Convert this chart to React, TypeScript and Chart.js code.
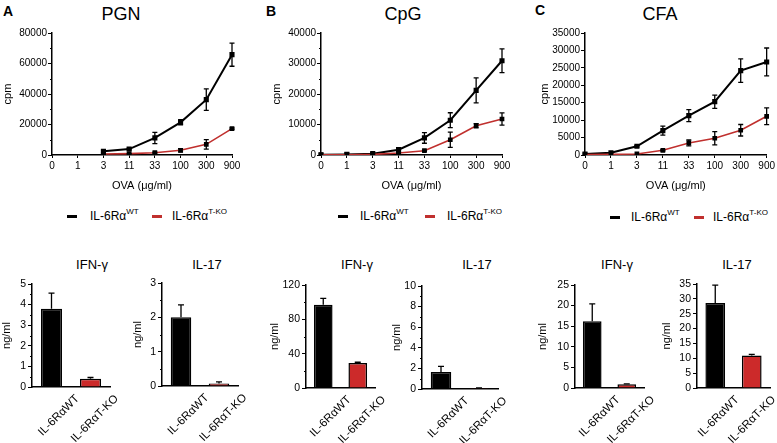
import React, { useEffect, useRef } from 'react';
import { Chart, registerables } from 'chart.js';

Chart.register(...registerables);

const FONT = '"Liberation Sans", Arial, Helvetica, sans-serif';
Chart.defaults.font.family = FONT;
Chart.defaults.color = '#000';

const RED_LINE = '#c0302e';
const RED_BAR = '#cc2a2a';

// ---------- data ----------
const doseLabels = ['0', '1', '3', '11', '33', '100', '300', '900'];

const pgnWT = [null, null, 2400, 3900, 11200, 21400, 36300, 65800];
const pgnWTErr = [0, 0, 600, 500, 3700, 1700, 7000, 7600];
const pgnKO = [null, null, 650, 900, 1500, 3100, 7000, 17300];
const pgnKOErr = [0, 0, 200, 200, 300, 1000, 3100, 500];

const cpgWT = [100, 200, 450, 1750, 5600, 11400, 21200, 30900];
const cpgWTErr = [0, 0, 200, 500, 1750, 2450, 4100, 3900];
const cpgKO = [50, 100, 200, 650, 1400, 5000, 9600, 11800];
const cpgKOErr = [0, 0, 0, 200, 200, 2500, 700, 2000];

const cfaWT = [300, 650, 2500, 7000, 11300, 15300, 24200, 26700];
const cfaWTErr = [0, 0, 200, 1300, 1700, 1900, 3350, 4000];
const cfaKO = [100, 200, 300, 1350, 3450, 4800, 7100, 11100];
const cfaKOErr = [0, 0, 0, 200, 850, 1900, 1650, 2400];

const groupLabels = ['IL-6RαWT', 'IL-6RαT-KO'];
const pgnIFN = [3.8, 0.4];
const pgnIFNErr = [0.76, 0.06];
const pgnIL17 = [2.0, 0.07];
const pgnIL17Err = [0.36, 0.05];
const cpgIFN = [97, 29];
const cpgIFNErr = [7.5, 1];
const cpgIL17 = [1.65, 0.08];
const cpgIL17Err = [0.55, 0.02];
const cfaIFN = [16.2, 0.9];
const cfaIFNErr = [4.2, 0.1];
const cfaIL17 = [28.6, 10.9];
const cfaIL17Err = [6.0, 0.4];

// ---------- plugins ----------
const errorBars = {
  id: 'errorBars',
  afterDatasetsDraw(chart: any, _args: any, opts: any) {
    const ctx = chart.ctx;
    const ys = chart.scales.y;
    const cap = opts.cap ?? 2.5;
    chart.data.datasets.forEach((ds: any, di: number) => {
      const errs = ds.errors;
      if (!errs) return;
      const meta = chart.getDatasetMeta(di);
      meta.data.forEach((el: any, i: number) => {
        const v = ds.data[i];
        const e = errs[i];
        if (v == null || !e) return;
        const x = el.x;
        const top = ys.getPixelForValue(v + e);
        const bot = opts.upOnly ? ys.getPixelForValue(v) : ys.getPixelForValue(Math.max(v - e, 0));
        ctx.save();
        ctx.strokeStyle = '#000';
        ctx.lineWidth = opts.width ?? 1.5;
        ctx.beginPath();
        ctx.moveTo(x, top);
        ctx.lineTo(x, bot);
        ctx.moveTo(x - cap, top);
        ctx.lineTo(x + cap, top);
        if (!opts.upOnly) {
          ctx.moveTo(x - cap, bot);
          ctx.lineTo(x + cap, bot);
        }
        ctx.stroke();
        ctx.restore();
      });
    });
  },
};

const minorTicks = {
  id: 'minorTicks',
  afterDraw(chart: any, _args: any, opts: any) {
    if (!opts || !opts.step) return;
    const y = chart.scales.y;
    const ctx = chart.ctx;
    ctx.save();
    ctx.strokeStyle = '#000';
    ctx.lineWidth = 1;
    for (let v = opts.step; v < y.max; v += opts.step) {
      const r = v / opts.major;
      if (Math.abs(r - Math.round(r)) < 1e-6) continue;
      const py = Math.round(y.getPixelForValue(v)) + 0.5;
      ctx.beginPath();
      ctx.moveTo(y.right - (opts.len ?? 2), py);
      ctx.lineTo(y.right, py);
      ctx.stroke();
    }
    ctx.restore();
  },
};

Chart.register(errorBars as any, minorTicks as any);

// ---------- config builders ----------
function lineConfig(p: any) {
  return {
    type: 'line',
    data: {
      labels: doseLabels,
      datasets: [
        {
          data: p.wt,
          errors: p.wtErr,
          borderColor: '#000',
          borderWidth: 2,
          pointStyle: 'rect',
          pointRadius: 2.2,
          pointBackgroundColor: '#000',
          pointBorderColor: '#000',
          order: 2,
        },
        {
          data: p.ko,
          errors: p.koErr,
          borderColor: RED_LINE,
          borderWidth: 1.6,
          pointStyle: 'rect',
          pointRadius: 2.2,
          pointBackgroundColor: '#000',
          pointBorderColor: '#000',
          order: 1,
        },
      ],
    },
    options: {
      responsive: false,
      animation: false,
      layout: { padding: { top: p.padTop, right: p.padRight, left: 0, bottom: 0 } },
      plugins: {
        legend: { display: false },
        tooltip: { enabled: false },
        title: { display: false },
        errorBars: { cap: 2.5, width: 1.3 },
        minorTicks: p.minor ? { step: p.minor, major: p.step, len: 2 } : {},
      },
      scales: {
        x: {
          offset: false,
          grid: { drawOnChartArea: false, drawTicks: true, tickLength: 3, tickColor: '#000' },
          border: { display: true, color: '#000', width: 1.5 },
          ticks: { color: '#000', font: { size: 10 }, padding: 2, maxRotation: 0, autoSkip: false },
          title: {
            display: true,
            text: 'OVA (μg/ml)',
            color: '#000',
            font: { size: 11 },
            padding: { top: 0, bottom: 2 },
          },
          afterFit: (s: any) => {
            s.height = p.xHeight;
          },
        },
        y: {
          min: 0,
          max: p.max,
          grid: { drawOnChartArea: false, drawTicks: true, tickLength: 4, tickColor: '#000' },
          border: { display: true, color: '#000', width: 1.5 },
          ticks: {
            stepSize: p.step,
            autoSkip: false,
            color: '#000',
            font: { size: 10 },
            padding: 1,
            callback: (v: any) => String(v),
          },
          title: {
            display: true,
            text: 'cpm',
            color: '#000',
            font: { size: 11 },
            padding: { top: 1, bottom: 0 },
          },
          afterFit: (s: any) => {
            s.width = p.yWidth;
          },
        },
      },
    },
  };
}

const BAR_PAD_RIGHT = 30;

function barConfig(p: any) {
  return {
    type: 'bar',
    data: {
      labels: groupLabels,
      datasets: [
        {
          data: p.vals,
          errors: p.errs,
          backgroundColor: ['#000', RED_BAR],
          borderColor: '#000',
          borderWidth: 1.5,
          borderSkipped: 'bottom',
          barPercentage: 0.54,
          categoryPercentage: 1,
        },
      ],
    },
    options: {
      responsive: false,
      animation: false,
      layout: { padding: { top: p.padTop, right: BAR_PAD_RIGHT, left: 0, bottom: 0 } },
      plugins: {
        legend: { display: false },
        tooltip: { enabled: false },
        title: { display: false },
        errorBars: { upOnly: true, cap: 3, width: 1.3 },
        minorTicks: p.minor ? { step: p.minor, major: p.step, len: 2 } : {},
      },
      scales: {
        x: {
          grid: { drawOnChartArea: false, drawTicks: false },
          border: { display: true, color: '#000', width: 1.5 },
          ticks: {
            color: '#000',
            font: { size: 11.5 },
            padding: 5,
            labelOffset: p.labelOffset ?? 26,
            minRotation: 45,
            maxRotation: 45,
            autoSkip: false,
          },
          afterFit: (s: any) => {
            s.height = p.xHeight;
          },
        },
        y: {
          min: 0,
          max: p.max,
          grid: { drawOnChartArea: false, drawTicks: true, tickLength: 4, tickColor: '#000' },
          border: { display: true, color: '#000', width: 1.5 },
          ticks: {
            stepSize: p.step,
            autoSkip: false,
            color: '#000',
            font: { size: 10.5 },
            padding: 2,
            callback: (v: any) => String(v),
          },
          title: {
            display: true,
            text: 'ng/ml',
            color: '#000',
            font: { size: 11 },
            padding: { top: 0, bottom: 0 },
          },
          afterFit: (s: any) => {
            s.width = p.yWidth;
          },
        },
      },
    },
  };
}

// ---------- components ----------
function ChartBox(props: { left: number; top: number; width: number; height: number; config: any }) {
  const ref = useRef<HTMLCanvasElement>(null);
  useEffect(() => {
    const c = new Chart(ref.current as HTMLCanvasElement, props.config);
    return () => c.destroy();
  }, []);
  return (
    <canvas
      ref={ref}
      width={props.width}
      height={props.height}
      style={{ position: 'absolute', left: props.left, top: props.top, width: props.width, height: props.height }}
    />
  );
}

function Txt(props: { x: number; y: number; size: number; bold?: boolean; center?: boolean; children: any }) {
  return (
    <div
      style={{
        position: 'absolute',
        left: props.x,
        top: props.y,
        transform: props.center ? 'translate(-50%, -50%)' : 'translate(0, -50%)',
        fontFamily: FONT,
        fontSize: props.size,
        fontWeight: props.bold ? 'bold' : 'normal',
        lineHeight: 1,
        whiteSpace: 'nowrap',
        color: '#000',
      }}
    >
      {props.children}
    </div>
  );
}

function LegendItem(props: { lineX: number; textX: number; y: number; color: string; sup: string }) {
  return (
    <>
      <div
        style={{
          position: 'absolute',
          left: props.lineX,
          top: props.y - 1,
          width: 10,
          height: 2.6,
          background: props.color,
        }}
      />
      <Txt x={props.textX} y={props.y} size={12}>
        IL-6Rα<sup style={{ fontSize: 8, verticalAlign: 'top', position: 'relative', top: -2 }}>{props.sup}</sup>
      </Txt>
    </>
  );
}

export default function App() {
  const lineA = lineConfig({ wt: pgnWT, wtErr: pgnWTErr, ko: pgnKO, koErr: pgnKOErr, max: 80000, step: 20000, minor: 10000, yWidth: 52, padTop: 13, padRight: 12, xHeight: 40 });
  const lineB = lineConfig({ wt: cpgWT, wtErr: cpgWTErr, ko: cpgKO, koErr: cpgKOErr, max: 40000, step: 10000, minor: 5000, yWidth: 52, padTop: 13, padRight: 12, xHeight: 40 });
  const lineC = lineConfig({ wt: cfaWT, wtErr: cfaWTErr, ko: cfaKO, koErr: cfaKOErr, max: 35000, step: 5000, minor: 0, yWidth: 48, padTop: 13, padRight: 8, xHeight: 40 });

  const barA1 = barConfig({ vals: pgnIFN, errs: pgnIFNErr, max: 5, step: 1, minor: 0.5, yWidth: 32, padTop: 14, xHeight: 56 });
  const barA2 = barConfig({ vals: pgnIL17, errs: pgnIL17Err, max: 3, step: 1, minor: 0.5, yWidth: 31, padTop: 14, xHeight: 57 });
  const barB1 = barConfig({ vals: cpgIFN, errs: cpgIFNErr, max: 120, step: 40, minor: 20, yWidth: 38, padTop: 14, xHeight: 55 });
  const barB2 = barConfig({ vals: cpgIL17, errs: cpgIL17Err, max: 10, step: 2, minor: 1, yWidth: 32, padTop: 14, xHeight: 54 });
  const barC1 = barConfig({ vals: cfaIFN, errs: cfaIFNErr, max: 25, step: 5, minor: 0, yWidth: 39, padTop: 14, xHeight: 55 });
  const barC2 = barConfig({ vals: cfaIL17, errs: cfaIL17Err, max: 35, step: 5, minor: 0, yWidth: 37, padTop: 14, xHeight: 55, labelOffset: 22 });

  const P = BAR_PAD_RIGHT;

  return (
    <div style={{ position: 'absolute', left: 0, top: 0, width: 777, height: 443, overflow: 'hidden', background: '#fff' }}>
      {/* panel letters */}
      <Txt x={3} y={11} size={14} bold>A</Txt>
      <Txt x={266} y={11} size={14} bold>B</Txt>
      <Txt x={535} y={10} size={14} bold>C</Txt>

      {/* line chart titles */}
      <Txt x={121} y={14} size={18} center>PGN</Txt>
      <Txt x={403} y={14} size={18} center>CpG</Txt>
      <Txt x={660} y={14} size={18} center>CFA</Txt>

      <ChartBox left={0} top={20} width={244} height={175} config={lineA} />
      <ChartBox left={269} top={20} width={245} height={175} config={lineB} />
      <ChartBox left={537} top={20} width={240} height={175} config={lineC} />

      {/* legends */}
      <LegendItem lineX={67} textX={90} y={216} color="#000" sup="WT" />
      <LegendItem lineX={152} textX={172} y={216} color={RED_LINE} sup="T-KO" />
      <LegendItem lineX={338} textX={360} y={216} color="#000" sup="WT" />
      <LegendItem lineX={425} textX={447} y={216} color={RED_LINE} sup="T-KO" />
      <LegendItem lineX={610} textX={631} y={217} color="#000" sup="WT" />
      <LegendItem lineX={694} textX={713} y={217} color={RED_LINE} sup="T-KO" />

      {/* bar titles */}
      <Txt x={92} y={264} size={13} center>IFN-γ</Txt>
      <Txt x={207} y={264} size={13} center>IL-17</Txt>
      <Txt x={357} y={264} size={13} center>IFN-γ</Txt>
      <Txt x={477} y={264} size={13} center>IL-17</Txt>
      <Txt x={617} y={264} size={13} center>IFN-γ</Txt>
      <Txt x={737} y={264} size={13} center>IL-17</Txt>

      <ChartBox left={0} top={270} width={110 + P} height={173} config={barA1} />
      <ChartBox left={131} top={269} width={107 + P} height={174} config={barA2} />
      <ChartBox left={268} top={271} width={107 + P} height={172} config={barB1} />
      <ChartBox left={390} top={272} width={108 + P} height={171} config={barB2} />
      <ChartBox left={536} top={271} width={108 + P} height={172} config={barC1} />
      <ChartBox left={660} top={270} width={110 + P} height={173} config={barC2} />
    </div>
  );
}
